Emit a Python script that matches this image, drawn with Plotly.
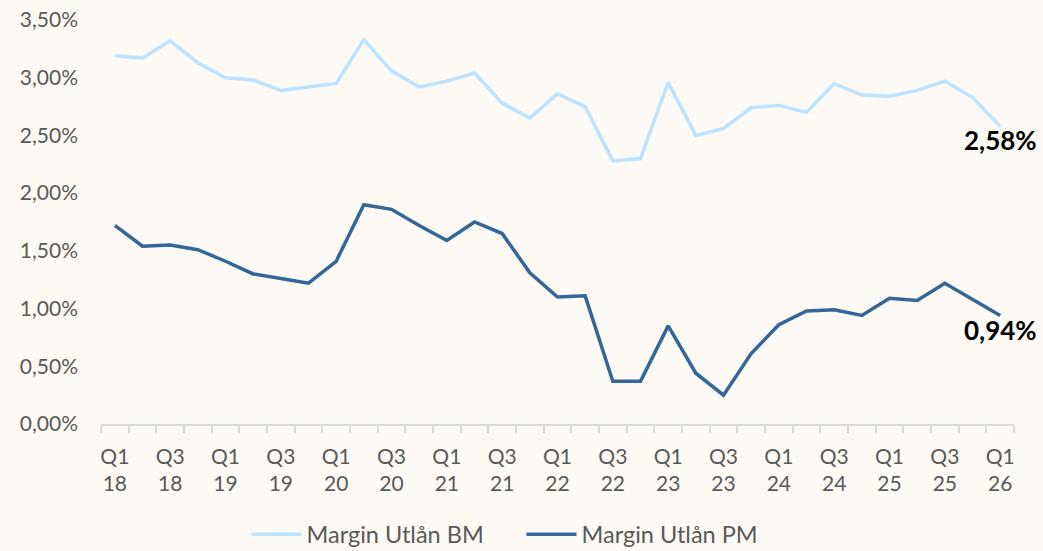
import plotly.graph_objects as go

quarters = ["Q1 18","Q2 18","Q3 18","Q4 18","Q1 19","Q2 19","Q3 19","Q4 19",
            "Q1 20","Q2 20","Q3 20","Q4 20","Q1 21","Q2 21","Q3 21","Q4 21",
            "Q1 22","Q2 22","Q3 22","Q4 22","Q1 23","Q2 23","Q3 23","Q4 23",
            "Q1 24","Q2 24","Q3 24","Q4 24","Q1 25","Q2 25","Q3 25","Q4 25","Q1 26"]

margin_bm = [3.19, 3.17, 3.32, 3.13, 3.00, 2.98, 2.89, 2.92, 2.95, 3.33, 3.06, 2.92,
             2.97, 3.04, 2.78, 2.65, 2.86, 2.75, 2.28, 2.30, 2.96, 2.50, 2.56, 2.74,
             2.76, 2.70, 2.95, 2.85, 2.84, 2.89, 2.97, 2.83, 2.58]

margin_pm = [1.72, 1.54, 1.55, 1.51, 1.41, 1.30, 1.26, 1.22, 1.41, 1.90, 1.86, 1.72,
             1.59, 1.75, 1.65, 1.31, 1.10, 1.11, 0.37, 0.37, 0.85, 0.44, 0.25, 0.61,
             0.86, 0.98, 0.99, 0.94, 1.09, 1.07, 1.22, 1.08, 0.94]

y_ticks = [0, 0.5, 1.0, 1.5, 2.0, 2.5, 3.0, 3.5]

x_idx = list(range(len(quarters)))
label_idx = x_idx[::2]
label_text = [quarters[i].replace(" ", "<br>") for i in label_idx]


def fmt(v):
    return f"{v:.2f}".replace(".", ",") + "%"


BG = "#FDF9F5"
LIGHT = "#BDE3FF"
DARK = "#336699"
GREY = "#595959"
FONT = "Lato"

fig = go.Figure()
fig.add_trace(go.Scatter(x=x_idx, y=margin_bm, mode="lines", name="Margin Utlån BM",
                         line=dict(color=LIGHT, width=3.5)))
fig.add_trace(go.Scatter(x=x_idx, y=margin_pm, mode="lines", name="Margin Utlån PM",
                         line=dict(color=DARK, width=3.5)))

for series in (margin_bm, margin_pm):
    fig.add_annotation(x=x_idx[-1], y=series[-1], xref="x", yref="y",
                       text=f"<b>{fmt(series[-1])}</b>", showarrow=False,
                       xanchor="center", yanchor="middle", yshift=-14, xshift=0,
                       font=dict(family=FONT, size=26, color="#000000"))

fig.update_layout(
    width=1043, height=551,
    paper_bgcolor=BG, plot_bgcolor=BG,
    margin=dict(l=101, r=29, t=20, b=127, autoexpand=False),
    font=dict(family=FONT, size=21, color=GREY),
    showlegend=True,
    legend=dict(orientation="h", xref="container", yref="container",
                x=0.5, xanchor="center", y=0.03, yanchor="middle",
                font=dict(family=FONT, size=23.5, color=GREY),
                bgcolor="rgba(0,0,0,0)", itemwidth=50, tracegroupgap=0,
                entrywidth=210),
)

fig.update_xaxes(
    range=[-0.5, len(quarters) - 0.5], automargin=False,
    tickmode="array", tickvals=label_idx, ticktext=label_text,
    ticks="", showgrid=False, zeroline=False,
    showline=True, linecolor="#D9D9D9", linewidth=1.5,
    ticklabelstandoff=13,
    tickfont=dict(family=FONT, size=21, color=GREY),
    minor=dict(tickmode="linear", tick0=-0.5, dtick=1, ticks="outside",
               ticklen=7, tickcolor="#D9D9D9", tickwidth=1.5, showgrid=False),
)

fig.update_yaxes(
    range=[0, 3.5], automargin=False,
    tickmode="array", tickvals=y_ticks, ticktext=[fmt(v) for v in y_ticks],
    showgrid=False, zeroline=False, showline=False,
    ticks="", ticklabelstandoff=22,
    tickfont=dict(family=FONT, size=21, color=GREY),
)

fig.write_html("out.html", config={"displayModeBar": False})

with open("out.html", encoding="utf-8") as f:
    html = f.read()
html = html.replace("<head>", "<head><style>html,body{margin:0;padding:0;background:%s;}</style>" % BG, 1)
with open("out.html", "w", encoding="utf-8") as f:
    f.write(html)
